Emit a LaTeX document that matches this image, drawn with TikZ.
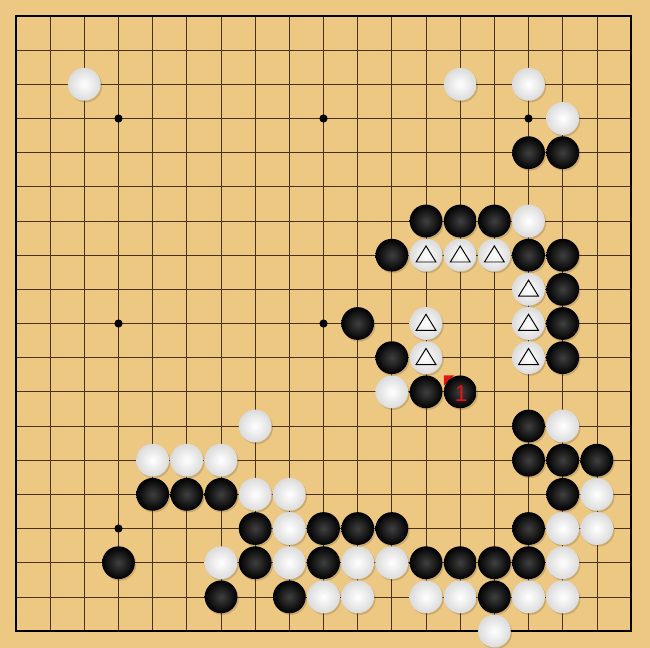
\documentclass[tikz,border=0pt]{standalone}
\usepackage{tikz}
\usepackage{fontspec}
\setsansfont{Liberation Sans}

\definecolor{boardwood}{RGB}{236,200,130}
\definecolor{gridbrown}{RGB}{75,50,22}
\definecolor{markred}{RGB}{230,20,20}

\tikzset{
  wstone/.style={shading=radial, inner color=white, outer color=black!14},
  bstone/.style={shading=radial, inner color=black!75, outer color=black},
  stoneshadow/.style={fill=black!70!brown, opacity=0.18},
  trimark/.style={draw=black, line width=0.8pt, line join=miter}
}

\begin{document}
\begin{tikzpicture}[x=1cm, y=-1cm]
            \useasboundingbox (-0.468,-0.468) rectangle (18.555,18.496);
            % Board
            \fill [boardwood] (-0.468,-0.468) rectangle (18.555,18.496);
            \foreach \k in {1,...,17} {
                \draw [gridbrown, line width=0.6pt] (\k,0) -- (\k,18);
                \draw [gridbrown, line width=0.6pt] (0,\k) -- (18,\k);
            }
            \draw [black, line width=1.5pt] (0,0) rectangle (18,18);
            
            % Star points
            \foreach \i in {3,9,15}
                \foreach \j in {3,9,15}
                    \fill [black] (\i,\j) circle (0.12);
            
            % Last move marker (under the stone)
            \fill [markred] (12.52,10.52) -- (12.82,10.52) -- (12.52,10.82) -- cycle;
            
            % White stones
            \foreach \i/\j in {2/2, 13/2, 15/2, 16/3, 15/6, 12/7, 13/7, 14/7, 15/8,
                               12/9, 15/9, 12/10, 15/10, 11/11, 7/12, 16/12,
                               4/13, 5/13, 6/13, 7/14, 8/14, 17/14, 8/15, 16/15, 17/15,
                               6/16, 8/16, 10/16, 11/16, 16/16,
                               9/17, 10/17, 12/17, 13/17, 15/17, 16/17, 14/18} {
                \fill [stoneshadow] (\i+0.04,\j+0.05) circle (0.48);
                \shade [wstone] (\i,\j) circle (0.48);
            }
            
            % Black stones
            \foreach \i/\j in {15/4, 16/4, 12/6, 13/6, 14/6, 11/7, 15/7, 16/7, 16/8,
                               10/9, 16/9, 11/10, 16/10, 12/11, 13/11,
                               15/12, 15/13, 16/13, 17/13, 4/14, 5/14, 6/14, 16/14,
                               7/15, 9/15, 10/15, 11/15, 15/15,
                               3/16, 7/16, 9/16, 12/16, 13/16, 14/16, 15/16,
                               6/17, 8/17, 14/17} {
                \fill [stoneshadow] (\i+0.04,\j+0.05) circle (0.48);
                \shade [bstone] (\i,\j) circle (0.48);
            }
            
            % Triangle marks on white stones
            \foreach \i/\j in {12/7, 13/7, 14/7, 15/8, 12/9, 15/9, 12/10, 15/10}
                \draw [trimark] (\i,\j-0.27) -- (\i+0.29,\j+0.2) -- (\i-0.29,\j+0.2) -- cycle;
            
            % Move number
            \node [text=markred, font=\sffamily\fontsize{19}{19}\selectfont, inner sep=0pt] (mvone) at (13.03,11.04) {1};
\end{tikzpicture}
\end{document}
